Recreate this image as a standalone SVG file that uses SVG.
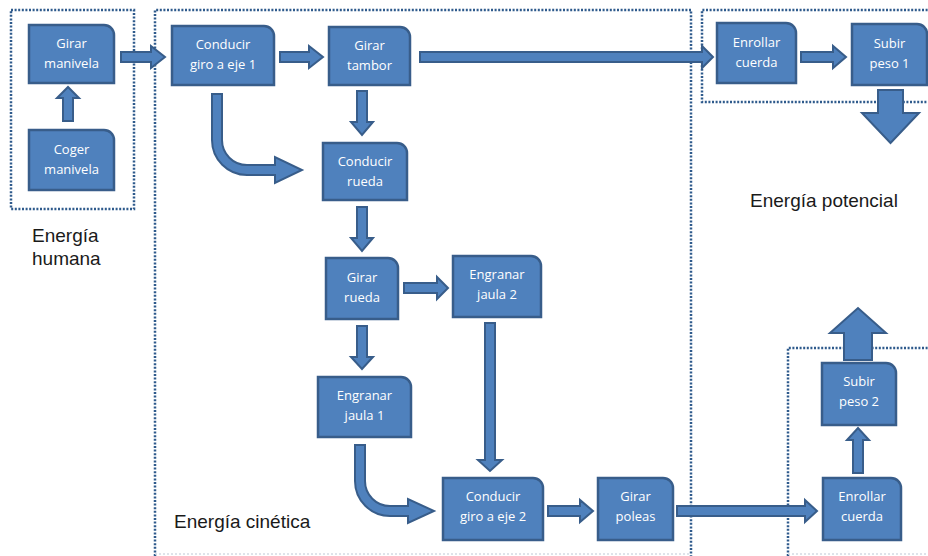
<svg xmlns="http://www.w3.org/2000/svg" width="928" height="556" viewBox="0 0 928 556">
<style>
.node path{fill:#4f81bd;stroke:#385d8a;stroke-width:2.5}
.node text{fill:#ffffff;font-family:"Open Sans","Liberation Sans",sans-serif;font-size:13px;text-anchor:middle}
.arr{fill:#4f81bd;stroke:#385d8a;stroke-width:2;stroke-linejoin:miter}
.grp{fill:none;stroke:#2e5a8c;stroke-width:2.5;stroke-dasharray:2 1.6}
.grpf{fill:none;stroke:#d3dae4;stroke-width:1.5;stroke-dasharray:2 2}
.lbl{fill:#1a1a1a;font-family:"Liberation Sans",Arial,sans-serif;font-size:19px}
</style>
<rect width="928" height="556" fill="#ffffff"/>
<g id="groups">
<rect class="grp" x="11" y="10" width="123" height="199"/>
<path class="grp" d="M155,556 V10 H691 V556"/>
<path class="grpf" d="M155,554 H691"/>
<path class="grp" d="M930,102 H702 V10 H930"/>
<path class="grp" d="M788,556 V348 H930"/>
<path class="grpf" d="M788,554 H928"/>
</g>
<g id="labels">
<text class="lbl" x="32" y="242">Energía</text>
<text class="lbl" x="32" y="265">humana</text>
<text class="lbl" x="174" y="528">Energía cinética</text>
<text class="lbl" x="750" y="207">Energía potencial</text>
</g>
<g id="connectors">
<polygon class="arr" points="63,121 63,98 57,98 68,87 79,98 73,98 73,121"/>
<polygon class="arr" points="121,52 151,52 151,46 165,57 151,68 151,62 121,62"/>
<polygon class="arr" points="280,52 309,52 309,46 323,57 309,68 309,62 280,62"/>
<polygon class="arr" points="420,52 702,52 702,46 713,57 702,68 702,62 420,62"/>
<polygon class="arr" points="801,52 833,52 833,46 846,57 833,68 833,62 801,62"/>
<polygon class="arr" points="878,90 903,90 903,113 919,113 890.5,143 862,113 878,113"/>
<polygon class="arr" points="357,91 367,91 367,122 373,122 362,135 351,122 357,122"/>
<path class="arr" d="M212,94 L212,140 A35,35 0 0 0 247,175 L275,175 L275,183 L302,170 L275,157 L275,165 L247,165 A25,25 0 0 1 222,140 L222,94 Z"/>
<polygon class="arr" points="357,207 367,207 367,238 373,238 362,251 351,238 357,238"/>
<polygon class="arr" points="404,283 437,283 437,277 448,288 437,299 437,293 404,293"/>
<polygon class="arr" points="357,326 367,326 367,357 373,357 362,369 351,357 357,357"/>
<polygon class="arr" points="485,323 495,323 495,460 502,460 490,471 478,460 485,460"/>
<path class="arr" d="M355,445 L355,481 A35,35 0 0 0 390,516 L408,516 L408,523 L434,511 L408,499 L408,506 L390,506 A25,25 0 0 1 365,481 L365,445 Z"/>
<polygon class="arr" points="548,506 580,506 580,500 593,511 580,522 580,516 548,516"/>
<polygon class="arr" points="677,506 805,506 805,500 817,511 805,522 805,516 677,516"/>
<polygon class="arr" points="853,473 853,440 847,440 858,428 869,440 863,440 863,473"/>
<polygon class="arr" points="844,360 844,333 830,333 858,308 886,333 872,333 872,360"/>
</g>
<g id="n-girar-manivela" class="node"><path d="M29,25 H104 A10,10 0 0 1 114,35 V83 H29 Z"/><text x="71.5" y="48">Girar</text><text x="71.5" y="68">manivela</text></g>
<g id="n-coger-manivela" class="node"><path d="M29,130 H104 A10,10 0 0 1 114,140 V190 H29 Z"/><text x="71.5" y="154">Coger</text><text x="71.5" y="174">manivela</text></g>
<g id="n-conducir-eje1" class="node"><path d="M172,26 H264 A10,10 0 0 1 274,36 V85 H172 Z"/><text x="223" y="49">Conducir</text><text x="223" y="69">giro a eje 1</text></g>
<g id="n-girar-tambor" class="node"><path d="M329,27 H400 A10,10 0 0 1 410,37 V85 H329 Z"/><text x="369.5" y="50">Girar</text><text x="369.5" y="70">tambor</text></g>
<g id="n-conducir-rueda" class="node"><path d="M323,143 H397 A10,10 0 0 1 407,153 V200 H323 Z"/><text x="365" y="166">Conducir</text><text x="365" y="186">rueda</text></g>
<g id="n-enrollar-cuerda-1" class="node"><path d="M717,23 H786 A10,10 0 0 1 796,33 V83 H717 Z"/><text x="756.5" y="47">Enrollar</text><text x="756.5" y="67">cuerda</text></g>
<g id="n-subir-peso-1" class="node"><path d="M852,24 H917 A10,10 0 0 1 927,34 V85 H852 Z"/><text x="889.5" y="48">Subir</text><text x="889.5" y="68">peso 1</text></g>
<g id="n-girar-rueda" class="node"><path d="M326,258 H388 A10,10 0 0 1 398,268 V319 H326 Z"/><text x="362" y="282">Girar</text><text x="362" y="302">rueda</text></g>
<g id="n-engranar-jaula-2" class="node"><path d="M453,256 H531 A10,10 0 0 1 541,266 V317 H453 Z"/><text x="497" y="279">Engranar</text><text x="497" y="299">jaula 2</text></g>
<g id="n-engranar-jaula-1" class="node"><path d="M318,377 H401 A10,10 0 0 1 411,387 V437 H318 Z"/><text x="364.5" y="400">Engranar</text><text x="364.5" y="420">jaula 1</text></g>
<g id="n-conducir-eje2" class="node"><path d="M443,478 H533 A10,10 0 0 1 543,488 V540 H443 Z"/><text x="493" y="501">Conducir</text><text x="493" y="521">giro a eje 2</text></g>
<g id="n-girar-poleas" class="node"><path d="M598,478 H663 A10,10 0 0 1 673,488 V540 H598 Z"/><text x="635.5" y="501">Girar</text><text x="635.5" y="521">poleas</text></g>
<g id="n-subir-peso-2" class="node"><path d="M822,363 H886 A10,10 0 0 1 896,373 V425 H822 Z"/><text x="859" y="386">Subir</text><text x="859" y="406">peso 2</text></g>
<g id="n-enrollar-cuerda-2" class="node"><path d="M823,478 H891 A10,10 0 0 1 901,488 V540 H823 Z"/><text x="862" y="501">Enrollar</text><text x="862" y="521">cuerda</text></g>
</svg>
